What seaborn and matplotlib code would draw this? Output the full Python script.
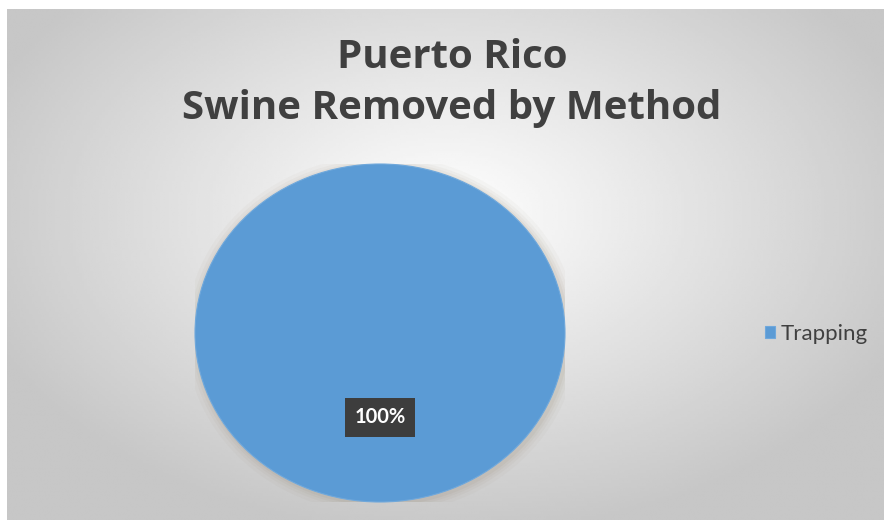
import matplotlib
matplotlib.use("Agg")
import matplotlib.pyplot as plt
import numpy as np
import seaborn as sns
from matplotlib.patches import Ellipse

# data
methods = ["Trapping"]
removed_share = [100]
slice_colors = ["#5b9bd5"]
title_lines = ["Puerto Rico", "Swine Removed by Method"]

sns.set_theme(style="white")
plt.rcParams['font.family'] = ['Lato', 'DejaVu Sans']

W, H = 884, 520
fig = plt.figure(figsize=(W / 100, H / 100), dpi=100)
fig.patch.set_facecolor("white")

# radial grey background like the office chart area
bg = fig.add_axes([7 / W, 0, 1 - 7 / W, (H - 9) / H])
yy, xx = np.mgrid[0:200, 0:300]
cx, cy = 150, 80
d = np.sqrt(((xx - cx) / 230.0) ** 2 + ((yy - cy) / 170.0) ** 2)
shade = np.clip(1.0 - 0.3 * d, 0.78, 1.0)
bg.imshow(shade, cmap="gray", vmin=0, vmax=1, aspect="auto",
          interpolation="bilinear", extent=[0, 1, 1, 0])
bg.set_axis_off()

# pie axes
ax = fig.add_axes([195 / W, (H - 502) / H, 370 / W, 338 / H])
ax.set_axis_off()

# soft shadow behind the pie
for r, a in [(1.06, 0.04), (1.04, 0.05), (1.025, 0.06), (1.012, 0.08)]:
    ax.add_patch(Ellipse((0.01, -0.01), 2 * r, 2 * r, color="#8a7a60", alpha=a, lw=0, zorder=0))

wedges, texts, autotexts = ax.pie(
    removed_share, colors=slice_colors, startangle=90, counterclock=False,
    autopct="%1.0f%%", pctdistance=0.5,
    wedgeprops=dict(edgecolor="#6fa8dc", linewidth=0.8),
    textprops=dict(color="white", fontsize=14.5, fontweight="bold"))
ax.set_aspect("auto")
ax.set_xlim(-1, 1)
ax.set_ylim(-1, 1)

for t in autotexts:
    t.set_bbox(dict(boxstyle="square,pad=0.45", facecolor="#3d3d3d", edgecolor="none"))

fig.text(452 / W, 1 - 68 / H, title_lines[0], ha="center", va="baseline",
         fontsize=29, fontweight="bold", color="#404040", family=["Open Sans", "DejaVu Sans"])
fig.text(452 / W, 1 - 119 / H, title_lines[1], ha="center", va="baseline",
         fontsize=29, fontweight="bold", color="#404040", family=["Open Sans", "DejaVu Sans"])

leg = fig.legend(wedges, methods, loc="center left", bbox_to_anchor=(765 / W, 1 - 334 / H),
                 frameon=False, fontsize=16, handlelength=0.45, handleheight=0.45,
                 handletextpad=0.25, borderaxespad=0, borderpad=0)
for txt in leg.get_texts():
    txt.set_color("#404040")

fig.savefig("out.png", dpi=100)
